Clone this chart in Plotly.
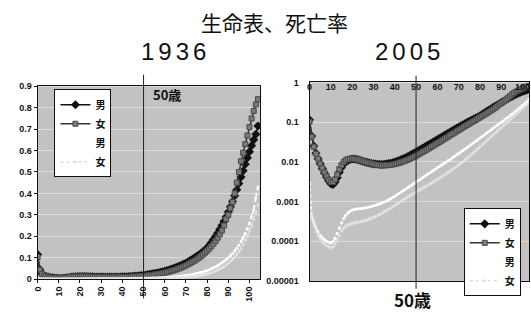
import plotly.graph_objects as go

ages = list(range(0, 105))

male_1936 = [0.115, 0.045, 0.025, 0.0165, 0.0120, 0.0090, 0.0068, 0.0052, 0.0041, 0.0033,
             0.0028, 0.0027, 0.0031, 0.0040, 0.0055, 0.0072, 0.0088, 0.0100, 0.0109, 0.0115,
             0.0118, 0.0118, 0.0116, 0.0112, 0.0108, 0.0104, 0.0100, 0.0097, 0.0094, 0.0091,
             0.0089, 0.0088, 0.0087, 0.0086, 0.0086, 0.0087, 0.0088, 0.0090, 0.0092, 0.0095,
             0.0099, 0.0103, 0.0108, 0.0114, 0.0120, 0.0127, 0.0135, 0.0144, 0.0154, 0.0165,
             0.0177, 0.0190, 0.0204, 0.0219, 0.0235, 0.0253, 0.0272, 0.0292, 0.0314, 0.0338,
             0.0364, 0.0392, 0.0422, 0.0454, 0.0488, 0.0525, 0.0565, 0.0607, 0.0652, 0.0700,
             0.0751, 0.0805, 0.0862, 0.0922, 0.0985, 0.105, 0.112, 0.119, 0.127, 0.135,
             0.145, 0.157, 0.170, 0.184, 0.199, 0.215, 0.232, 0.250, 0.270, 0.291,
             0.313, 0.337, 0.362, 0.389, 0.417, 0.446, 0.476, 0.506, 0.536, 0.566,
             0.595, 0.623, 0.650, 0.676, 0.715]

female_1936 = [0.103, 0.043, 0.024, 0.0160, 0.0118, 0.0090, 0.0069, 0.0054, 0.0043, 0.0035,
               0.0031, 0.0031, 0.0036, 0.0048, 0.0065, 0.0083, 0.0099, 0.0110, 0.0117, 0.0120,
               0.0121, 0.0120, 0.0117, 0.0113, 0.0109, 0.0105, 0.0101, 0.0097, 0.0094, 0.0091,
               0.0088, 0.0086, 0.0084, 0.0083, 0.0082, 0.0082, 0.0082, 0.0083, 0.0084, 0.0086,
               0.0088, 0.0091, 0.0094, 0.0098, 0.0102, 0.0107, 0.0113, 0.0119, 0.0126, 0.0134,
               0.0143, 0.0153, 0.0164, 0.0176, 0.0189, 0.0203, 0.0218, 0.0235, 0.0253, 0.0273,
               0.0295, 0.0318, 0.0343, 0.0370, 0.0399, 0.0431, 0.0465, 0.0502, 0.0542, 0.0585,
               0.0631, 0.0681, 0.0734, 0.0791, 0.0852, 0.0917, 0.0987, 0.106, 0.114, 0.123,
               0.132, 0.142, 0.153, 0.165, 0.178, 0.193, 0.209, 0.227, 0.250, 0.280,
               0.300, 0.330, 0.360, 0.400, 0.450, 0.500, 0.550, 0.590, 0.630, 0.670,
               0.710, 0.750, 0.785, 0.815, 0.840]

male_2005 = [0.0030, 0.00042, 0.00030, 0.00022, 0.00017, 0.00014, 0.00012, 0.00011, 0.00010, 0.000095,
             0.000090, 0.000098, 0.00012, 0.00016, 0.00022, 0.00029, 0.00037, 0.00045, 0.00052, 0.00057,
             0.00061, 0.00063, 0.00065, 0.00066, 0.00067, 0.00068, 0.00069, 0.00071, 0.00073, 0.00075,
             0.00078, 0.00081, 0.00084, 0.00088, 0.00092, 0.00097, 0.00103, 0.00110, 0.00118, 0.00127,
             0.00137, 0.00148, 0.00160, 0.00174, 0.00189, 0.00205, 0.00223, 0.00242, 0.00263, 0.00286,
             0.00311, 0.00338, 0.00367, 0.00399, 0.00433, 0.00470, 0.00510, 0.00553, 0.00600, 0.00651,
             0.00706, 0.00766, 0.00831, 0.00902, 0.00979, 0.0106, 0.0115, 0.0125, 0.0136, 0.0148,
             0.0161, 0.0176, 0.0192, 0.0210, 0.0230, 0.0252, 0.0276, 0.0302, 0.0331, 0.0363,
             0.0398, 0.0436, 0.0478, 0.0524, 0.0574, 0.0629, 0.0689, 0.0755, 0.0827, 0.0906,
             0.0992, 0.109, 0.119, 0.131, 0.144, 0.158, 0.174, 0.192, 0.213, 0.236,
             0.262, 0.292, 0.325, 0.380, 0.430]

female_2005 = [0.0027, 0.00038, 0.00026, 0.00018, 0.00014, 0.00011, 0.000095, 0.000085, 0.000078, 0.000072,
               0.000068, 0.000072, 0.000085, 0.00011, 0.00014, 0.00018, 0.00021, 0.00024, 0.00026, 0.00027,
               0.00028, 0.00029, 0.00030, 0.00030, 0.00031, 0.00032, 0.00033, 0.00034, 0.00036, 0.00038,
               0.00040, 0.00042, 0.00045, 0.00048, 0.00051, 0.00055, 0.00059, 0.00063, 0.00068, 0.00074,
               0.00080, 0.00087, 0.00094, 0.00102, 0.00110, 0.00119, 0.00129, 0.00139, 0.00150, 0.00162,
               0.00175, 0.00188, 0.00202, 0.00217, 0.00233, 0.00250, 0.00268, 0.00288, 0.00310, 0.00334,
               0.00360, 0.00389, 0.00421, 0.00456, 0.00495, 0.00538, 0.00586, 0.00639, 0.00698, 0.00764,
               0.00838, 0.00921, 0.0101, 0.0112, 0.0124, 0.0138, 0.0153, 0.0170, 0.0190, 0.0212,
               0.0237, 0.0265, 0.0297, 0.0333, 0.0373, 0.0418, 0.0468, 0.0524, 0.0587, 0.0657,
               0.0735, 0.0822, 0.0919, 0.103, 0.115, 0.128, 0.143, 0.160, 0.179, 0.200,
               0.223, 0.249, 0.278, 0.310, 0.345]

series_names = ["男", "女", "男", "女"]
x_ticks = [0, 10, 20, 30, 40, 50, 60, 70, 80, 90, 100]
lin_ticks = [0, 0.1, 0.2, 0.3, 0.4, 0.5, 0.6, 0.7, 0.8, 0.9]
lin_labels = ["0", "0.1", "0.2", "0.3", "0.4", "0.5", "0.6", "0.7", "0.8", "0.9"]
log_ticks = [1, 0.1, 0.01, 0.001, 0.0001, 0.00001]
log_labels = ["1", "0.1", "0.01", "0.001", "0.0001", "0.00001"]

title_main = "生命表、死亡率"
title_left = "1936"
title_right = "2005"
mark_label = "50歳"
mark_age = 50

W, H = 531, 315
def px(x):
    return x / W
def py(y):
    return 1 - y / H

FONT = "Liberation Sans, Arial, sans-serif"
CJK = "Noto Sans CJK JP, sans-serif"

styles = [
    dict(mode="lines+markers", line=dict(color="#111111", width=1.5),
         marker=dict(symbol="diamond", size=7, color="#111111")),
    dict(mode="lines+markers", line=dict(color="#333333", width=1.5),
         marker=dict(symbol="square", size=5, color="#7a7a7a", line=dict(color="#4a4a4a", width=1))),
    dict(mode="lines+markers", line=dict(color="#ffffff", width=2, dash="dot"),
         marker=dict(symbol="circle", size=3, color="#ffffff")),
    dict(mode="lines+markers", line=dict(color="#dcdcdc", width=1.5, dash="dot"),
         marker=dict(symbol="triangle-right", size=4, color="#e4e4e4")),
]
data_sets = [male_1936, female_1936, male_2005, female_2005]

fig = go.Figure()
for i, (vals, st) in enumerate(zip(data_sets, styles)):
    fig.add_trace(go.Scatter(x=ages, y=vals, name=series_names[i], xaxis="x", yaxis="y",
                             legend="legend", **st))
for i, (vals, st) in enumerate(zip(data_sets, styles)):
    fig.add_trace(go.Scatter(x=ages, y=vals, name=series_names[i], xaxis="x2", yaxis="y2",
                             legend="legend2", **st))

tickfont = dict(family=FONT, size=9, color="#111111", weight="bold")
bg = "#c2c2c2"

fig.update_layout(
    width=W, height=H, margin=dict(l=0, r=0, t=0, b=0),
    paper_bgcolor="white", plot_bgcolor=bg,
    xaxis=dict(domain=[px(33), px(258)], range=[0, 105], anchor="y",
               tickvals=x_ticks, tickangle=-90, tickfont=tickfont,
               showline=True, linecolor="#111111", linewidth=1, mirror=True,
               showgrid=False, zeroline=False, ticks="outside", ticklen=3, tickcolor="#111111"),
    yaxis=dict(domain=[py(283), py(84)], range=[0, 0.9], anchor="x",
               tickvals=lin_ticks, ticktext=lin_labels, tickfont=tickfont,
               showline=True, linecolor="#111111", linewidth=1, mirror=True,
               showgrid=True, gridcolor="#dedede", gridwidth=1, zeroline=False,
               ticks="outside", ticklen=3, tickcolor="#111111"),
    xaxis2=dict(domain=[px(308), px(530)], range=[0, 103], anchor="y2", side="top",
                ticklabelposition="inside", ticklabeloverflow="allow",
                tickvals=x_ticks, tickfont=tickfont,
                showline=True, linecolor="#111111", linewidth=1, mirror=True,
                showgrid=False, zeroline=False),
    yaxis2=dict(domain=[py(285), py(80)], type="log", range=[-5, 0], anchor="x2",
                tickvals=log_ticks, ticktext=log_labels, tickfont=tickfont,
                ticklabelstandoff=8,
                showline=True, linecolor="#111111", linewidth=1, mirror=True,
                showgrid=True, gridcolor="#dedede", gridwidth=1, zeroline=False),
    legend=dict(x=px(50), y=py(87), xanchor="left", yanchor="top",
                bgcolor="white", bordercolor="#111111", borderwidth=1,
                font=dict(family=CJK, size=10, color="#111111", weight="bold"),
                tracegroupgap=0, itemwidth=30),
    legend2=dict(x=px(464), y=py(210), xanchor="left", yanchor="top",
                 bgcolor="white", bordercolor="#111111", borderwidth=1,
                 font=dict(family=CJK, size=10, color="#111111", weight="bold"),
                 tracegroupgap=0, itemwidth=30),
    showlegend=True,
)

fig.add_shape(type="line", xref="x", yref="paper", x0=mark_age, x1=mark_age,
              y0=py(303), y1=py(72), line=dict(color="#222222", width=1))
fig.add_shape(type="line", xref="x2", yref="paper", x0=mark_age, x1=mark_age,
              y0=py(293), y1=py(73), line=dict(color="#222222", width=1))

def spaced(t):
    return '<span style="letter-spacing:4px">' + t + '</span>'

fig.add_annotation(text=title_main, x=px(273), y=py(18), xref="paper", yref="paper",
                   xanchor="center", yanchor="middle",
                   showarrow=False, font=dict(family=CJK, size=21, color="#111111"))
fig.add_annotation(text=spaced(title_left), x=px(172), y=py(48), xref="paper", yref="paper",
                   xanchor="center", yanchor="middle",
                   showarrow=False, font=dict(family=FONT, size=24, color="#111111"))
fig.add_annotation(text=spaced(title_right), x=px(409), y=py(48), xref="paper", yref="paper",
                   xanchor="center", yanchor="middle",
                   showarrow=False, font=dict(family=FONT, size=24, color="#111111"))
fig.add_annotation(text=mark_label, x=px(164), y=py(92), xref="paper", yref="paper",
                   xanchor="center", yanchor="middle",
                   showarrow=False, font=dict(family=CJK, size=13, color="#111111", weight="bold"))
fig.add_annotation(text=mark_label, x=px(412), y=py(304), xref="paper", yref="paper",
                   xanchor="center", yanchor="middle",
                   showarrow=False, font=dict(family=CJK, size=17, color="#111111", weight="bold"))

fig.write_html("out.html", post_script="document.body.style.margin='0';",
               config={"displayModeBar": False})
